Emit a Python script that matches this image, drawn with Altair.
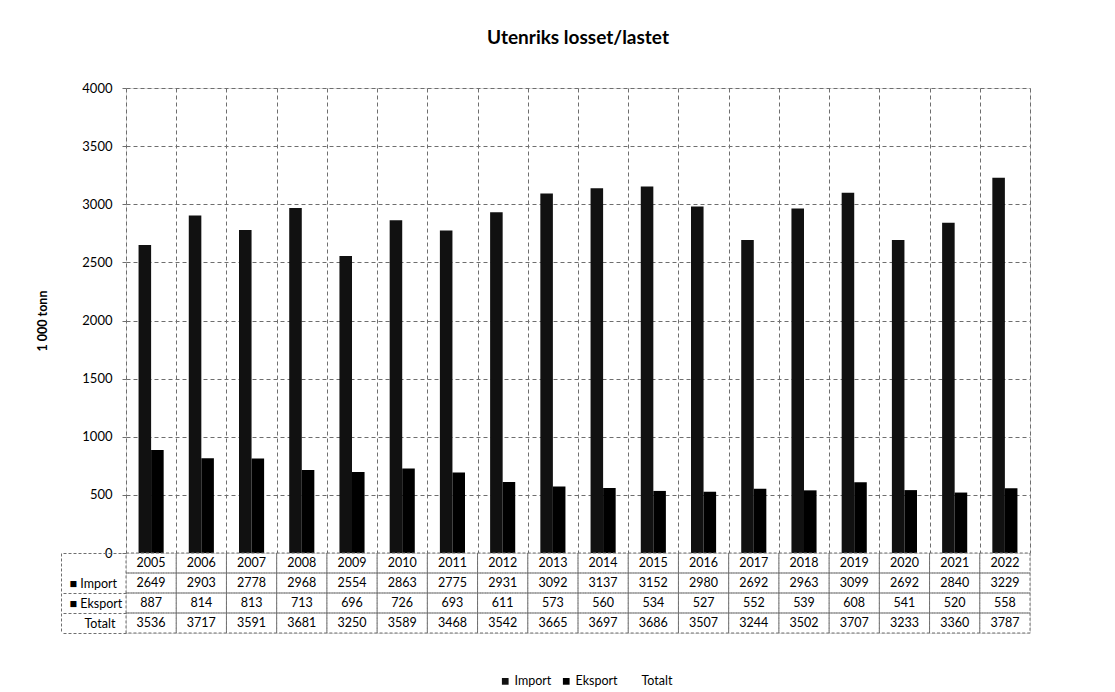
import altair as alt
import pandas as pd

years = [str(y) for y in range(2005, 2023)]
import_vals = [2649, 2903, 2778, 2968, 2554, 2863, 2775, 2931, 3092, 3137, 3152, 2980, 2692, 2963, 3099, 2692, 2840, 3229]
export_vals = [887, 814, 813, 713, 696, 726, 693, 611, 573, 560, 534, 527, 552, 539, 608, 541, 520, 558]
total_vals = [3536, 3717, 3591, 3681, 3250, 3589, 3468, 3542, 3665, 3697, 3686, 3507, 3244, 3502, 3707, 3233, 3360, 3787]
series = ["Import", "Eksport", "Totalt"]
row_names = ["År", "\u25a0 Import", "\u25a0 Eksport", "Totalt"]

FONT = "Lato"
GRID = "#6e6e6e"
DASH = [4, 3]

bar_rows = []
for i, y in enumerate(years):
    bar_rows.append({"year": y, "series": "Import", "value": import_vals[i]})
    bar_rows.append({"year": y, "series": "Eksport", "value": export_vals[i]})
bar_df = pd.DataFrame(bar_rows)

tab_rows = []
for i, y in enumerate(years):
    tab_rows.append({"year": y, "row": row_names[0], "label": y})
    tab_rows.append({"year": y, "row": row_names[1], "label": str(import_vals[i])})
    tab_rows.append({"year": y, "row": row_names[2], "label": str(export_vals[i])})
    tab_rows.append({"year": y, "row": row_names[3], "label": str(total_vals[i])})
tab_df = pd.DataFrame(tab_rows)

xscale = alt.Scale(domain=years, paddingInner=0, paddingOuter=0)
yrows = alt.Scale(domain=row_names, paddingInner=0, paddingOuter=0)

bars = alt.Chart(bar_df).mark_bar().encode(
    x=alt.X("year:N", scale=xscale,
            axis=alt.Axis(title=None, labels=False, ticks=False, domain=False, grid=True,
                          tickBand="extent", gridColor=GRID, gridDash=DASH)),
    xOffset=alt.XOffset("series:N", sort=["Import", "Eksport"],
                        scale=alt.Scale(domain=["Import", "Eksport"], paddingOuter=1, paddingInner=0)),
    y=alt.Y("value:Q", scale=alt.Scale(domain=[0, 4000]),
            axis=alt.Axis(values=list(range(0, 4001, 500)), format="d", title="1 000 tonn",
                          titleFont=FONT, titleFontSize=12.5, titleFontWeight="bold", titleColor="black",
                          titlePadding=32, labelFont=FONT, labelFontSize=13, labelColor="black",
                          labelPadding=10, tickSize=4, tickColor=GRID, domain=False,
                          gridColor=GRID, gridDash=DASH)),
    color=alt.Color("series:N",
                    scale=alt.Scale(domain=series, range=["#111111", "#000000", "rgba(0,0,0,0)"]),
                    legend=alt.Legend(orient="none", legendX=373, legendY=587, title=None,
                                      direction="horizontal",
                                      symbolType="square", symbolSize=45, labelFont=FONT,
                                      labelFontSize=12.5, labelColor="black", labelOffset=3,
                                      columnPadding=8, symbolStrokeWidth=0)),
).properties(
    width=904, height=465,
    title=alt.TitleParams("Utenriks losset/lastet", font=FONT, fontSize=19, fontWeight="bold",
                          color="black", anchor="middle", frame="group", offset=34),
)

cells = alt.Chart(tab_df).mark_rect(fillOpacity=0, stroke=GRID, strokeDash=[3, 2], strokeWidth=1).encode(
    x=alt.X("year:N", scale=xscale, axis=None),
    y=alt.Y("row:N", sort=row_names, scale=yrows,
            axis=alt.Axis(title=None, orient="left", tickBand="extent", tickSize=65,
                          labelPadding={"condition": {"test": "datum.value === 'Totalt'", "value": -23}, "value": -8},
                          labelAlign="left", labelFont=FONT, labelFontSize=12.5, labelColor="black",
                          labelExpr="datum.value == 'År' ? '' : datum.value",
                          tickColor=GRID, tickDash=[3, 2],
                          tickOpacity={"condition": {"test": "datum.value === 'År'", "value": 0}, "value": 1},
                          domain=False, grid=False)),
)
texts = alt.Chart(tab_df).mark_text(font=FONT, fontSize=12.5, color="black").encode(
    x=alt.X("year:N", scale=xscale, axis=None),
    y=alt.Y("row:N", sort=row_names, scale=yrows,
            axis=alt.Axis(title=None, orient="left", offset=65, labels=False, ticks=False, domain=True,
                          domainColor=GRID, domainDash=[3, 2])),
    text="label:N",
)
table = alt.layer(cells, texts).resolve_axis(y="independent").properties(width=904, height=80)

chart = alt.vconcat(bars, table, spacing=0, bounds="flush").properties(
    padding={"left": 28, "top": 20, "right": 5, "bottom": 5}
).configure_view(stroke=GRID, strokeDash=DASH).configure(background="white")

chart.save("out.html", embed_options={"renderer": "svg", "actions": False})
